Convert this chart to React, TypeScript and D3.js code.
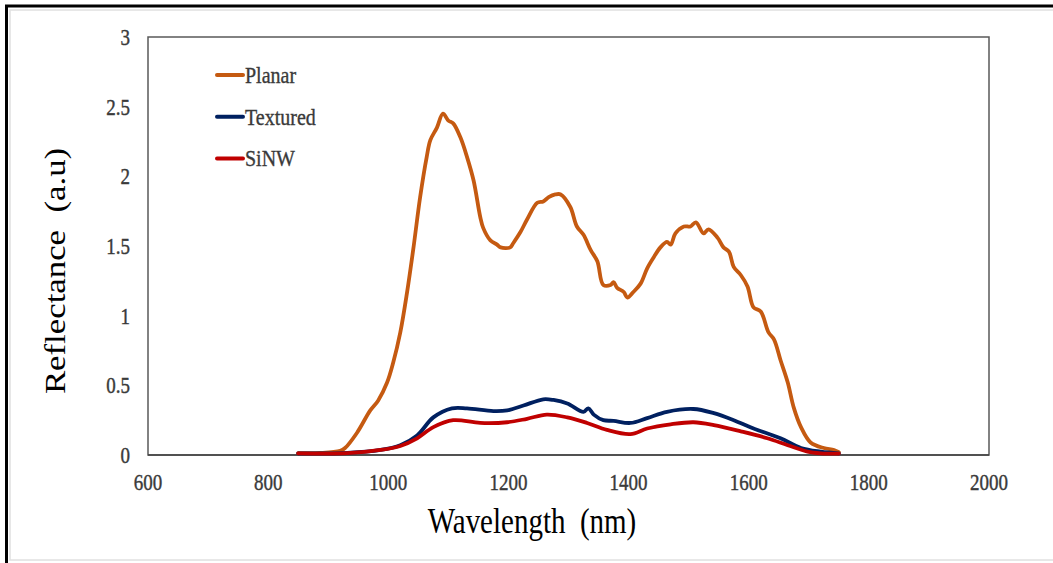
import * as d3 from "d3";

// wavelength (nm) / reflectance pairs
const planarNm = [850, 887, 920, 928, 948, 970, 983, 998, 1008, 1020, 1031, 1042, 1053, 1064, 1070, 1081, 1091, 1100, 1108, 1120, 1131, 1142, 1153, 1158, 1170, 1181, 1187, 1203, 1208, 1220, 1231, 1248, 1258, 1267, 1278, 1287, 1303, 1314, 1325, 1337, 1348, 1358, 1370, 1375, 1381, 1392, 1398, 1408, 1420, 1431, 1442, 1453, 1464, 1470, 1478, 1492, 1503, 1512, 1525, 1533, 1548, 1558, 1567, 1575, 1587, 1598, 1608, 1620, 1633, 1642, 1653, 1665, 1675, 1687, 1703, 1725, 1742, 1750];
const planarR = [0.014, 0.015, 0.03, 0.05, 0.16, 0.32, 0.39, 0.52, 0.66, 0.88, 1.16, 1.49, 1.85, 2.14, 2.26, 2.35, 2.45, 2.4, 2.38, 2.28, 2.14, 1.97, 1.71, 1.63, 1.54, 1.51, 1.49, 1.49, 1.52, 1.6, 1.69, 1.81, 1.82, 1.85, 1.87, 1.87, 1.78, 1.64, 1.58, 1.47, 1.39, 1.22, 1.22, 1.24, 1.2, 1.17, 1.13, 1.17, 1.23, 1.34, 1.42, 1.49, 1.53, 1.51, 1.59, 1.64, 1.64, 1.67, 1.59, 1.62, 1.56, 1.49, 1.46, 1.35, 1.29, 1.21, 1.06, 1.03, 0.88, 0.83, 0.68, 0.52, 0.34, 0.2, 0.09, 0.05, 0.036, 0.02];

const texturedNm = [850, 932, 987, 1020, 1048, 1075, 1106, 1131, 1175, 1198, 1225, 1258, 1275, 1298, 1325, 1333, 1342, 1358, 1375, 1403, 1431, 1464, 1508, 1542, 1575, 1608, 1653, 1687, 1720, 1750];
const texturedR = [0.012, 0.015, 0.036, 0.07, 0.14, 0.27, 0.335, 0.335, 0.315, 0.32, 0.355, 0.4, 0.395, 0.37, 0.31, 0.335, 0.29, 0.25, 0.245, 0.23, 0.265, 0.31, 0.33, 0.3, 0.25, 0.19, 0.12, 0.05, 0.024, 0.012];

const sinwNm = [850, 932, 987, 1020, 1048, 1075, 1108, 1153, 1198, 1231, 1264, 1298, 1331, 1364, 1403, 1431, 1470, 1508, 1542, 1587, 1631, 1665, 1698, 1720, 1750];
const sinwR = [0.012, 0.013, 0.036, 0.065, 0.12, 0.2, 0.25, 0.23, 0.235, 0.26, 0.29, 0.27, 0.23, 0.18, 0.15, 0.19, 0.22, 0.235, 0.215, 0.17, 0.12, 0.07, 0.024, 0.012, 0.01];

const xTicks = [600, 800, 1000, 1200, 1400, 1600, 1800, 2000];
const yTicks = [0, 0.5, 1, 1.5, 2, 2.5, 3];

const series = [
  { name: "Planar", nm: planarNm, r: planarR, color: "#C55A11" },
  { name: "Textured", nm: texturedNm, r: texturedR, color: "#002060" },
  { name: "SiNW", nm: sinwNm, r: sinwR, color: "#C00000" },
];

const W = 1053, H = 563;
const left = 148, right = 989, top = 37, bottom = 455;
const font = "'Liberation Serif', 'Times New Roman', serif";
const sy = 1.2; // the original figure is stretched vertically

export default function App() {
  const x = d3.scaleLinear([600, 2000], [left, right]);
  const y = d3.scaleLinear([0, 3], [bottom, top]);
  const line = d3.line<[number, number]>()
    .x(d => x(d[0]))
    .y(d => y(d[1]))
    .curve(d3.curveCatmullRom.alpha(0.5));

  return (
    <svg width={W} height={H} style={{ position: "absolute", left: 0, top: 0, background: "#fff" }}>
      {/* frame */}
      <rect x={10} y={10} width={1060} height={550} fill="none" stroke="#e0e0e0" strokeWidth={1.5} />
      <line x1={5} x2={W} y1={6} y2={6} stroke="#000" strokeWidth={3} />
      <line x1={6.5} x2={6.5} y1={5} y2={H} stroke="#000" strokeWidth={3} />

      <rect x={left} y={top} width={right - left} height={bottom - top} fill="none" stroke="#595959" strokeWidth={1.5} />
      <line x1={left} x2={right} y1={bottom} y2={bottom} stroke="#404040" strokeWidth={1.5} />

      {yTicks.map(t => (
        <text key={t} transform={`translate(130,${y(t) + 8}) scale(1,${sy})`} textAnchor="end"
          fontFamily={font} fontSize={19} fill="#3a3a3a" stroke="#3a3a3a" strokeWidth={0.35}>{t}</text>
      ))}
      {xTicks.map(t => (
        <text key={t} transform={`translate(${x(t)},${bottom + 35}) scale(1,${sy})`} textAnchor="middle"
          fontFamily={font} fontSize={19} fill="#3a3a3a" stroke="#3a3a3a" strokeWidth={0.35}>{t}</text>
      ))}

      {series.map(s => (
        <path key={s.name} d={line(s.nm.map((n, i) => [n, s.r[i]]))!} fill="none"
          stroke={s.color} strokeWidth={3.8} strokeLinejoin="round" strokeLinecap="round" />
      ))}

      {series.map((s, i) => (
        <g key={s.name}>
          <line x1={217} x2={243} y1={75 + i * 41.7} y2={75 + i * 41.7} stroke={s.color} strokeWidth={4} strokeLinecap="round" />
          <text transform={`translate(245,${83 + i * 41.7}) scale(1,${sy})`} fontFamily={font} fontSize={20}
            fill="#3a3a3a" stroke="#3a3a3a" strokeWidth={0.3}>{s.name}</text>
        </g>
      ))}

      <text transform={`translate(532,533) scale(1,${sy})`} textAnchor="middle" fontFamily={font} fontSize={29} fill="#000">
        {"Wavelength\u00A0 (nm)"}
      </text>
      <text transform={`translate(65,271) scale(1,${sy}) rotate(-90)`} textAnchor="middle" fontFamily={font} fontSize={29} fill="#000">
        {"Reflectance\u00A0 (a.u)"}
      </text>
    </svg>
  );
}
